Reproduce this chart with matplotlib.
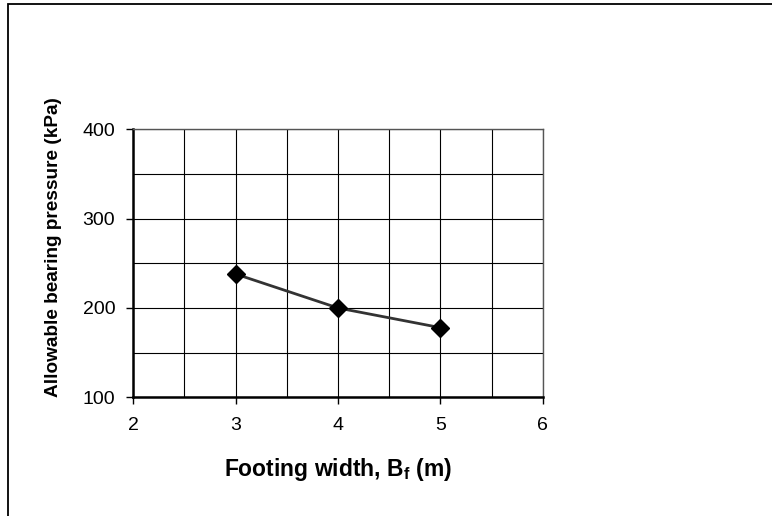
import matplotlib
matplotlib.use("Agg")
import matplotlib.pyplot as plt
from matplotlib.patches import Rectangle
from matplotlib.ticker import MultipleLocator

plt.rcParams['font.family'] = ['Liberation Sans', 'DejaVu Sans']

# data
footing_width = [3, 4, 5]
bearing_pressure = [238, 200, 178]

fig = plt.figure(figsize=(7.72, 5.16), dpi=100)
ax = fig.add_axes([0.1727, 0.2300, 0.5303, 0.5194])

# outer frame (runs off the right and bottom edges)
fig.patches.append(Rectangle((7.5 / 772, -0.1), 1.2, 1 - 4.0 / 516 + 0.1,
                             transform=fig.transFigure, fill=False,
                             edgecolor='black', linewidth=1.3))

ax.plot(footing_width, bearing_pressure,
        color='#333333',
        linewidth=2,
        marker='D',
        markersize=9.5,
        markerfacecolor='black',
        markeredgecolor='black',
        zorder=3)

ax.set_xlim(2, 6)
ax.set_ylim(100, 400)
ax.xaxis.set_major_locator(MultipleLocator(1))
ax.xaxis.set_minor_locator(MultipleLocator(0.5))
ax.yaxis.set_major_locator(MultipleLocator(100))
ax.yaxis.set_minor_locator(MultipleLocator(50))

ax.grid(which='both', color='black', linewidth=0.8)
ax.set_axisbelow(True)
ax.tick_params(which='major', direction='out', length=5, width=1,
               colors='black', labelsize=14)
ax.tick_params(axis='x', which='major', pad=9)
ax.tick_params(axis='y', which='major', pad=8)
ax.tick_params(which='minor', length=0)

for side in ['left', 'bottom']:
    ax.spines[side].set_linewidth(1.8)
for side in ['top', 'right']:
    ax.spines[side].set_linewidth(1.0)
    ax.spines[side].set_color('#555555')

ax.set_xlabel("Footing width, B$_\\mathregular{f}$ (m)", fontsize=16.5,
              fontweight='bold', labelpad=16)
ax.set_ylabel("Allowable bearing pressure (kPa)", fontsize=13.7,
              fontweight='bold')
ax.yaxis.set_label_coords(-0.174, 0.559)

fig.savefig("out.png", dpi=100)
